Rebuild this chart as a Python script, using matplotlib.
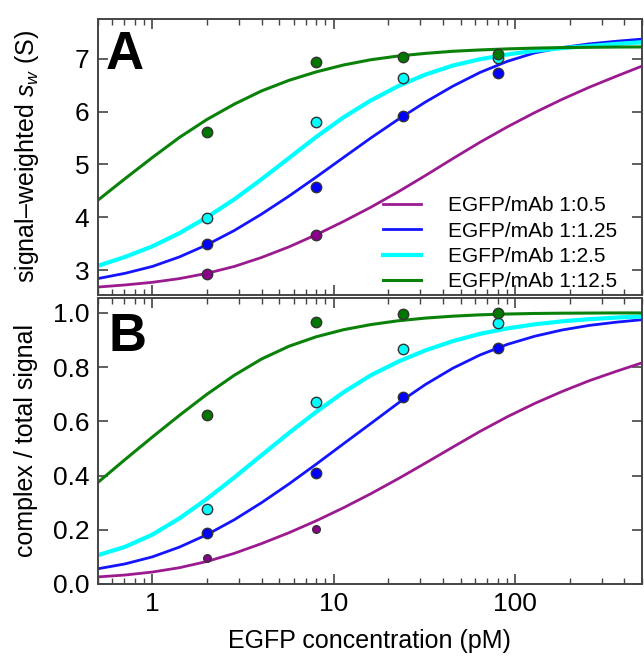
import numpy as np
import matplotlib
matplotlib.use("Agg")
import matplotlib.pyplot as plt
from matplotlib.ticker import LogLocator, FixedLocator, FixedFormatter, NullFormatter, FormatStrFormatter

plt.rcParams['font.family'] = ['Liberation Sans', 'DejaVu Sans']
plt.rcParams['mathtext.fontset'] = 'custom'
plt.rcParams['mathtext.it'] = 'Liberation Sans:italic'
plt.rcParams['mathtext.rm'] = 'Liberation Sans'

# ---------------- data ---------------- #
labels = ["EGFP/mAb 1:0.5", "EGFP/mAb 1:1.25", "EGFP/mAb 1:2.5", "EGFP/mAb 1:12.5"]
line_colors = ['#9c1a90', '#1414ff', '#00ffff', '#0a820a']
dot_colors = ['#8b008b', '#0000ff', '#00ffff', '#007800']
line_widths = [2.0, 2.0, 3.0, 2.2]

# measured points (EGFP concentration, pM)
conc = [2, 8, 24, 80]

sw_purple = [2.92, 3.67]
sw_blue = [3.49, 4.57, 5.91, 6.73]
sw_cyan = [3.98, 5.81, 6.63, 7.02]
sw_green = [5.62, 6.94, 7.04, 7.08]

fr_purple = [0.097, 0.202]
fr_blue = [0.188, 0.409, 0.688, 0.872]
fr_cyan = [0.276, 0.673, 0.868, 0.962]
fr_green = [0.622, 0.968, 0.997, 1.0]

# fitted curves
curve_conc = [0.5, 0.707, 1, 1.41, 2, 2.83, 4, 5.66, 8, 11.3, 16, 22.6,
              32, 45.3, 64, 90.5, 128, 181, 256, 362, 500]

fit_sw_purple = [2.68, 2.72, 2.77, 2.84, 2.94, 3.07, 3.24, 3.44, 3.67, 3.92, 4.19,
                 4.48, 4.79, 5.11, 5.42, 5.71, 5.98, 6.23, 6.46, 6.67, 6.86]
fit_sw_blue = [2.84, 2.94, 3.07, 3.25, 3.48, 3.75, 4.06, 4.40, 4.76, 5.13, 5.50,
               5.85, 6.18, 6.48, 6.74, 6.95, 7.11, 7.21, 7.28, 7.33, 7.37]
fit_sw_cyan = [3.08, 3.25, 3.45, 3.70, 4.00, 4.34, 4.72, 5.12, 5.52, 5.89, 6.21,
               6.48, 6.70, 6.87, 6.99, 7.08, 7.15, 7.20, 7.24, 7.28, 7.31]
fit_sw_green = [4.32, 4.73, 5.13, 5.51, 5.85, 6.14, 6.39, 6.59, 6.75, 6.88, 6.98,
                7.05, 7.10, 7.14, 7.165, 7.185, 7.20, 7.21, 7.215, 7.22, 7.222]

fit_fr_purple = [0.026, 0.033, 0.044, 0.060, 0.083, 0.113, 0.149, 0.189, 0.233, 0.281, 0.333,
                 0.388, 0.446, 0.505, 0.563, 0.617, 0.666, 0.710, 0.750, 0.785, 0.816]
fit_fr_blue = [0.056, 0.074, 0.100, 0.136, 0.182, 0.237, 0.300, 0.369, 0.442, 0.517, 0.592,
               0.667, 0.736, 0.796, 0.845, 0.884, 0.914, 0.937, 0.954, 0.966, 0.975]
fit_fr_cyan = [0.106, 0.137, 0.182, 0.242, 0.314, 0.393, 0.475, 0.557, 0.635, 0.707, 0.770,
               0.820, 0.862, 0.896, 0.923, 0.943, 0.958, 0.969, 0.977, 0.983, 0.987]
fit_fr_green = [0.374, 0.459, 0.542, 0.622, 0.700, 0.770, 0.830, 0.877, 0.912, 0.938, 0.957,
                0.971, 0.981, 0.988, 0.993, 0.996, 0.998, 0.999, 0.9995, 1.0, 1.0]

# ---------------- figure ---------------- #
fig = plt.figure(figsize=(6.44, 6.56), dpi=100)
axA = fig.add_axes([0.1517, 0.5503, 0.8453, 0.4207])
axB = fig.add_axes([0.1517, 0.1098, 0.8453, 0.4359])

spine_col = '#444444'


def style_axes(ax):
    ax.set_xscale('log')
    ax.set_xlim(0.5, 500)
    for s in ax.spines.values():
        s.set_color(spine_col)
        s.set_linewidth(1.4)
    ax.tick_params(which='both', direction='in', top=True, right=True,
                   color=spine_col, labelsize=19, pad=6)
    ax.tick_params(which='major', length=7, width=1.2)
    ax.tick_params(which='minor', length=4.5, width=1.0)
    ax.xaxis.set_major_locator(FixedLocator([1, 10, 100]))
    ax.xaxis.set_minor_locator(LogLocator(base=10, subs=np.arange(2, 10)))
    ax.xaxis.set_minor_formatter(NullFormatter())


style_axes(axA)
style_axes(axB)

fits_sw = [fit_sw_purple, fit_sw_blue, fit_sw_cyan, fit_sw_green]
pts_sw = [sw_purple, sw_blue, sw_cyan, sw_green]
fits_fr = [fit_fr_purple, fit_fr_blue, fit_fr_cyan, fit_fr_green]
pts_fr = [fr_purple, fr_blue, fr_cyan, fr_green]

for i in range(4):
    axA.plot(curve_conc, fits_sw[i], color=line_colors[i], lw=line_widths[i],
             label=labels[i], zorder=2)
    axB.plot(curve_conc, fits_fr[i], color=line_colors[i], lw=line_widths[i], zorder=2)

for i in range(4):
    n = len(pts_sw[i])
    axA.plot(conc[:n], pts_sw[i], 'o', ms=7.5, mfc=dot_colors[i], mec='#333333',
             mew=1.0, zorder=3)
    ms_b = 5.5 if i == 0 else 7.5
    axB.plot(conc[:n], pts_fr[i], 'o', ms=ms_b, mfc=dot_colors[i], mec='#333333',
             mew=1.0, zorder=3)

# panel A
axA.set_ylim(2.53, 7.75)
axA.set_yticks([3, 4, 5, 6, 7])
axA.xaxis.set_major_formatter(NullFormatter())
axA.set_ylabel('signal\u2013weighted $\\mathit{s}_{\\mathit{w}}$ (S)', fontsize=18)
axA.yaxis.set_label_coords(-0.105, 0.5)
axA.text(0.015, 0.96, 'A', transform=axA.transAxes, fontsize=38,
         fontweight='bold', ha='left', va='top')
axA.legend(loc='upper left', bbox_to_anchor=(0.525, 0.357), frameon=False,
           fontsize=15, handlelength=1.8, handletextpad=1.3, labelspacing=0.3,
           borderpad=0, borderaxespad=0)

# panel B
axB.set_ylim(0, 1.055)
axB.set_yticks([0.0, 0.2, 0.4, 0.6, 0.8, 1.0])
axB.yaxis.set_major_formatter(FormatStrFormatter('%.1f'))
axB.xaxis.set_major_formatter(FixedFormatter(['1', '10', '100']))
axB.set_ylabel('complex / total signal', fontsize=18)
axB.yaxis.set_label_coords(-0.11, 0.5)
axB.set_xlabel('EGFP concentration (pM)', fontsize=18, labelpad=9)
axB.text(0.02, 0.95, 'B', transform=axB.transAxes, fontsize=38,
         fontweight='bold', ha='left', va='top')

fig.savefig('out.png', dpi=100)
